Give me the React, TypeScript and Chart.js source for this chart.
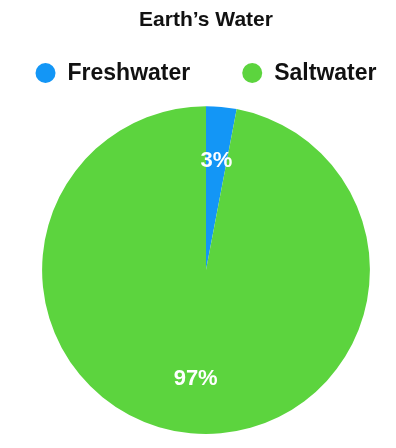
import React, { useEffect, useRef } from 'react';
import { Chart, registerables } from 'chart.js';
Chart.register(...registerables);

const categories = ['Freshwater', 'Saltwater'];
const values = [3, 97];
const sliceColors = ['#1396F6', '#5CD43E'];
const valueLabels = ['3%', '97%'];
const titleText = 'Earth’s Water';

const FONT = '"Liberation Sans", Arial, Helvetica, sans-serif';

const legendPlugin = {
  id: 'customLegend',
  afterDraw(chart: any) {
    const ctx = chart.ctx;
    const labels: string[] = chart.data.labels;
    const bg: string[] = chart.data.datasets[0].backgroundColor;
    ctx.save();
    ctx.font = `bold 23px ${FONT}`;
    const r = 10, gapText = 12, gapItem = 52;
    const widths = labels.map((l) => 2 * r + gapText + ctx.measureText(l).width);
    const total = widths.reduce((a, b) => a + b, 0) + gapItem * (labels.length - 1);
    const cx = (chart.chartArea.left + chart.chartArea.right) / 2;
    let x = cx - total / 2;
    const y = 73;
    labels.forEach((l, i) => {
      ctx.fillStyle = bg[i];
      ctx.beginPath();
      ctx.arc(x + r, y, r, 0, Math.PI * 2);
      ctx.fill();
      ctx.fillStyle = '#111111';
      ctx.textBaseline = 'middle';
      ctx.textAlign = 'left';
      ctx.fillText(l, x + 2 * r + gapText, y + 1);
      x += widths[i] + gapItem;
    });
    ctx.restore();
  },
};

const sliceLabelPlugin = {
  id: 'sliceLabels',
  afterDatasetsDraw(chart: any) {
    const ctx = chart.ctx;
    const meta = chart.getDatasetMeta(0);
    ctx.save();
    ctx.font = `bold 22px ${FONT}`;
    ctx.fillStyle = '#ffffff';
    ctx.textAlign = 'center';
    ctx.textBaseline = 'middle';
    meta.data.forEach((arc: any, i: number) => {
      const { x, y, startAngle, endAngle, outerRadius } = arc.getProps(
        ['x', 'y', 'startAngle', 'endAngle', 'outerRadius'],
        true
      );
      const mid = (startAngle + endAngle) / 2;
      const d = outerRadius * 0.67;
      ctx.fillText(valueLabels[i], x + Math.cos(mid) * d, y + Math.sin(mid) * d);
    });
    ctx.restore();
  },
};

export default function App() {
  const ref = useRef<HTMLCanvasElement | null>(null);
  useEffect(() => {
    if (!ref.current) return;
    const chart = new Chart(ref.current, {
      type: 'pie',
      data: {
        labels: categories,
        datasets: [
          {
            data: values,
            backgroundColor: sliceColors,
            borderWidth: 0,
          },
        ],
      },
      options: {
        responsive: false,
        animation: false,
        layout: { padding: { left: 16, right: 0, top: 0, bottom: 14 } },
        plugins: {
          legend: { display: false },
          tooltip: { enabled: false },
          title: {
            display: true,
            text: titleText,
            color: '#111111',
            font: { family: FONT, size: 21, weight: 'bold', lineHeight: 1.2 },
            padding: { top: 8, bottom: 73 },
          },
        },
      },
      plugins: [legendPlugin, sliceLabelPlugin],
    } as any);
    return () => chart.destroy();
  }, []);
  return (
    <div style={{ position: 'absolute', left: 0, top: 0, width: 396, height: 448, background: '#fff' }}>
      <canvas ref={ref} width={396} height={448} />
    </div>
  );
}
